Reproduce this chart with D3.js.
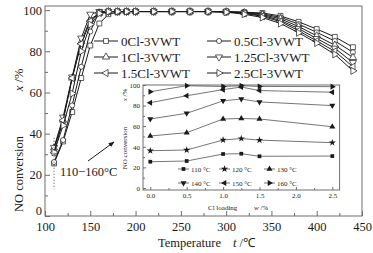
<!DOCTYPE html>
<html>
<head>
<meta charset="utf-8">
<script src="https://cdn.jsdelivr.net/npm/d3@7"></script>
<style>
  html, body { margin: 0; padding: 0; background: #fff; }
  svg { display: block; }
  svg text { font-family: "Liberation Serif", "Times New Roman", Times, serif; }
</style>
</head>
<body>
<div id="chart"></div>
<script>
// main chart: NO conversion vs temperature
const temps = [110, 120, 130, 140, 150, 160, 170, 180, 190, 200, 220, 240, 260, 280, 300, 320, 340, 360, 380, 400, 420, 440];
const cl0   = [25.5, 36.2, 50.5, 67.0, 82.8, 93.5, 98.0, 99.0, 99.2, 99.3, 99.3, 99.3, 99.3, 99.3, 99.2, 99.0, 98.6, 97.2, 94.3, 90.8, 87.0, 82.0];
const cl05  = [26.2, 36.9, 53.7, 72.5, 89.6, 99.3, 99.3, 99.3, 99.3, 99.3, 99.3, 99.3, 99.3, 99.3, 99.2, 99.0, 98.2, 96.5, 93.2, 89.2, 85.0, 79.5];
const cl1   = [33.0, 46.6, 67.0, 84.6, 95.5, 98.5, 99.3, 99.3, 99.3, 99.3, 99.3, 99.3, 99.3, 99.3, 99.2, 98.8, 97.8, 95.8, 92.0, 87.5, 83.0, 77.0];
const cl125 = [33.3, 48.0, 67.5, 86.4, 98.0, 99.3, 99.3, 99.3, 99.3, 99.3, 99.3, 99.3, 99.3, 99.3, 99.2, 98.6, 97.4, 95.0, 91.0, 86.2, 81.5, 74.5];
const cl15  = [30.8, 46.5, 67.0, 83.6, 94.6, 98.6, 99.3, 99.3, 99.3, 99.3, 99.3, 99.3, 99.3, 99.3, 99.2, 98.4, 97.0, 94.4, 90.0, 85.0, 80.0, 72.5];
const cl25  = [31.0, 44.0, 59.5, 80.0, 93.0, 98.4, 99.2, 99.3, 99.3, 99.3, 99.3, 99.3, 99.3, 99.3, 99.0, 98.0, 96.4, 93.5, 89.0, 84.0, 78.5, 70.5];
const seriesNames = ["0Cl-3VWT", "0.5Cl-3VWT", "1Cl-3VWT", "1.25Cl-3VWT", "1.5Cl-3VWT", "2.5Cl-3VWT"];

// inset: NO conversion vs Cl loading at low temperature
const loading = [0, 0.5, 1.0, 1.25, 1.5, 2.5];
const t110 = [25.5, 26.2, 33.0, 33.3, 30.8, 31.0];
const t120 = [36.2, 36.9, 46.6, 48.0, 46.5, 44.0];
const t130 = [50.5, 53.7, 67.0, 67.5, 67.0, 59.5];
const t140 = [67.0, 72.5, 84.6, 86.4, 83.6, 80.0];
const t150 = [82.8, 89.6, 95.5, 98.0, 94.6, 93.0];
const t160 = [93.5, 99.3, 98.5, 99.3, 98.6, 98.4];
const insetNames = ["110 °C", "120 °C", "130 °C", "140 °C", "150 °C", "160 °C"];

const W = 373, H = 253;
const frameCol = "#6e6e6e";
const ink = "#1a1a1a";
const serif = "Liberation Serif, Times New Roman, serif";

const svg = d3.select("#chart").append("svg").attr("width", W).attr("height", H);

const x = d3.scaleLinear().domain([100, 450]).range([45, 362]);
const y = d3.scaleLinear().domain([0, 102]).range([216, 6]);

// frame
svg.append("rect")
  .attr("x", x.range()[0]).attr("y", y.range()[1])
  .attr("width", x.range()[1] - x.range()[0]).attr("height", y.range()[0] - y.range()[1])
  .attr("fill", "none").attr("stroke", frameCol).attr("stroke-width", 1);

// ticks pointing inward
svg.append("g").attr("transform", `translate(0,${y(0)})`)
  .call(d3.axisBottom(x).tickValues(d3.range(100, 451, 50)).tickSizeInner(-5).tickSizeOuter(0).tickPadding(6).tickFormat(d3.format("d")));
svg.append("g").attr("transform", `translate(0,${y(0)})`)
  .call(d3.axisBottom(x).tickValues(d3.range(125, 450, 50)).tickSizeInner(-3).tickSizeOuter(0).tickFormat(""));
const yAx = svg.append("g").attr("transform", `translate(${x(100)},0)`)
  .call(d3.axisLeft(y).tickValues(d3.range(0, 101, 20)).tickSizeInner(-5).tickSizeOuter(0).tickPadding(3));
svg.append("g").attr("transform", `translate(${x(100)},0)`)
  .call(d3.axisLeft(y).tickValues(d3.range(10, 100, 20)).tickSizeInner(-3).tickSizeOuter(0).tickFormat(""));
svg.selectAll(".domain").remove();
svg.selectAll(".tick line").attr("stroke", frameCol);
svg.selectAll(".tick text").attr("fill", ink).attr("font-size", 12.5).attr("font-family", serif);
// the "0" sits a little above the corner, as in the original
yAx.selectAll(".tick text").filter(d => d === 0).attr("dy", "-0.12em");

// axis titles
svg.append("text").attr("transform", "translate(23,174) rotate(-90)")
  .attr("text-anchor", "middle").attr("font-size", 12.5).attr("fill", ink).text("NO conversion");
svg.append("text").attr("transform", "translate(23,80) rotate(-90)")
  .attr("text-anchor", "middle").attr("font-size", 12.5).attr("fill", ink)
  .html('<tspan font-style="italic">x</tspan> /%');
svg.append("text").attr("x", 158).attr("y", 247)
  .attr("font-size", 12.5).attr("fill", ink).text("Temperature");
svg.append("text").attr("x", 233).attr("y", 247)
  .attr("font-size", 12.5).attr("fill", ink)
  .html('<tspan font-style="italic">t</tspan> /℃');

// open marker shapes
const tri = d3.symbol().type(d3.symbolTriangle).size(22)();
const markers = [
  { path: d3.symbol().type(d3.symbolSquare).size(24)(), rot: 0 },
  { path: d3.symbol().type(d3.symbolCircle).size(20)(), rot: 0 },
  { path: tri, rot: 0 },
  { path: tri, rot: 180 },
  { path: tri, rot: -90 },
  { path: tri, rot: 90 }
];

const mainSeries = [cl0, cl05, cl1, cl125, cl15, cl25];
const line = d3.line().x((d, i) => x(temps[i])).y(d => y(d));

const series = svg.append("g").selectAll("g").data(mainSeries).join("g");
series.append("path")
  .attr("d", d => line(d))
  .attr("fill", "none").attr("stroke", ink).attr("stroke-width", 1);
series.each(function (vals, si) {
  d3.select(this).selectAll("path.m").data(vals).join("path")
    .attr("class", "m")
    .attr("d", markers[si].path)
    .attr("transform", (d, i) => `translate(${x(temps[i])},${y(d)}) rotate(${markers[si].rot})`)
    .attr("fill", "#fff").attr("stroke", ink).attr("stroke-width", 0.7);
});

// dotted marker line at 110 and arrow
svg.append("line").attr("x1", x(110)).attr("x2", x(110)).attr("y1", y(38)).attr("y2", y(13))
  .attr("stroke", ink).attr("stroke-width", 0.8).attr("stroke-dasharray", "1,2");
svg.append("defs").append("marker").attr("id", "ah")
  .attr("viewBox", "0 0 10 10").attr("refX", 9).attr("refY", 5)
  .attr("markerWidth", 6).attr("markerHeight", 6).attr("orient", "auto")
  .append("path").attr("d", "M0,1L10,5L0,9Z").attr("fill", ink);
svg.append("line").attr("x1", 88).attr("y1", 161).attr("x2", 114).attr("y2", 142)
  .attr("stroke", ink).attr("stroke-width", 1).attr("marker-end", "url(#ah)");
svg.append("text").attr("x", 60).attr("y", 176).attr("font-size", 12.5).attr("fill", ink).text("110−160°C");

// main legend
const legPos = [[94, 41], [94, 57], [94, 73], [207, 41], [207, 57], [207, 73]];
const legOrder = [0, 2, 4, 1, 3, 5];
legOrder.forEach((si, k) => {
  const [lx, ly] = legPos[k];
  const g = svg.append("g").attr("transform", `translate(${lx},${ly})`);
  g.append("line").attr("x1", 0).attr("x2", 24).attr("stroke", ink).attr("stroke-width", 1);
  g.append("path").attr("d", markers[si].path)
    .attr("transform", `translate(12,0) rotate(${markers[si].rot})`)
    .attr("fill", "#fff").attr("stroke", ink).attr("stroke-width", 0.7);
  g.append("text").attr("x", 27).attr("y", 4.5).attr("font-size", 13).attr("fill", ink).text(seriesNames[si]);
});

// inset
const xi = d3.scaleLinear().domain([-0.1, 2.6]).range([143, 339.6]);
const yi = d3.scaleLinear().domain([0, 100]).range([188, 85]);
const ib = { x0: 143, x1: 339.6, y0: 85, y1: 190 };

svg.append("rect").attr("x", ib.x0).attr("y", ib.y0)
  .attr("width", ib.x1 - ib.x0).attr("height", ib.y1 - ib.y0)
  .attr("fill", "#fff").attr("stroke", frameCol).attr("stroke-width", 1);

const inset = svg.append("g");
inset.append("g").attr("transform", `translate(0,${ib.y1})`)
  .call(d3.axisBottom(xi).tickValues([0, 0.5, 1, 1.5, 2, 2.5]).tickSizeInner(-3).tickSizeOuter(0).tickPadding(3).tickFormat(d3.format(".1f")));
inset.append("g").attr("transform", `translate(0,${ib.y1})`)
  .call(d3.axisBottom(xi).tickValues([0.25, 0.75, 1.25, 1.75, 2.25]).tickSizeInner(-2).tickSizeOuter(0).tickFormat(""));
inset.append("g").attr("transform", `translate(${ib.x0},0)`)
  .call(d3.axisLeft(yi).tickValues(d3.range(0, 101, 20)).tickSizeInner(-3).tickSizeOuter(0).tickPadding(3));
inset.append("g").attr("transform", `translate(${ib.x0},0)`)
  .call(d3.axisLeft(yi).tickValues(d3.range(10, 100, 20)).tickSizeInner(-2).tickSizeOuter(0).tickFormat(""));
inset.selectAll(".domain").remove();
inset.selectAll(".tick line").attr("stroke", frameCol);
inset.selectAll(".tick text").attr("fill", ink).attr("font-size", 7).attr("font-family", serif);

inset.append("text").attr("transform", "translate(127,148) rotate(-90)")
  .attr("text-anchor", "middle").attr("font-size", 7).attr("fill", ink).text("NO conversion");
inset.append("text").attr("transform", "translate(127,95) rotate(-90)")
  .attr("text-anchor", "middle").attr("font-size", 7).attr("fill", ink)
  .html('<tspan font-style="italic">x</tspan> /%');
inset.append("text").attr("x", 208).attr("y", 210).attr("font-size", 7).attr("fill", ink).text("Cl loading");
inset.append("text").attr("x", 254).attr("y", 210).attr("font-size", 7).attr("fill", ink)
  .html('<tspan font-style="italic">w</tspan> /%');

const ftri = d3.symbol().type(d3.symbolTriangle).size(16)();
const fmarkers = [
  { path: d3.symbol().type(d3.symbolSquare).size(14)(), rot: 0 },
  { path: d3.symbol().type(d3.symbolStar).size(16)(), rot: 0 },
  { path: ftri, rot: 0 },
  { path: ftri, rot: 180 },
  { path: ftri, rot: -90 },
  { path: ftri, rot: 90 }
];
const insetSeries = [t110, t120, t130, t140, t150, t160];
const iline = d3.line().x((d, i) => xi(loading[i])).y(d => yi(d));
const ig = inset.append("g").selectAll("g").data(insetSeries).join("g");
ig.append("path").attr("d", d => iline(d))
  .attr("fill", "none").attr("stroke", ink).attr("stroke-width", 0.6);
ig.each(function (vals, si) {
  d3.select(this).selectAll("path.m").data(vals).join("path")
    .attr("class", "m")
    .attr("d", fmarkers[si].path)
    .attr("transform", (d, i) => `translate(${xi(loading[i])},${yi(d)}) rotate(${fmarkers[si].rot})`)
    .attr("fill", ink);
});

// inset legend
const iLegPos = [[178, 169], [219, 169], [264, 169], [178, 183], [219, 183], [264, 183]];
insetNames.forEach((name, si) => {
  const [lx, ly] = iLegPos[si];
  const g = inset.append("g").attr("transform", `translate(${lx},${ly})`);
  g.append("line").attr("x1", 0).attr("x2", 11).attr("stroke", ink).attr("stroke-width", 0.6);
  g.append("path").attr("d", fmarkers[si].path)
    .attr("transform", `translate(5.5,0) rotate(${fmarkers[si].rot})`).attr("fill", ink);
  g.append("text").attr("x", 13).attr("y", 2.5).attr("font-size", 7).attr("fill", ink).text(name);
});
</script>
</body>
</html>
